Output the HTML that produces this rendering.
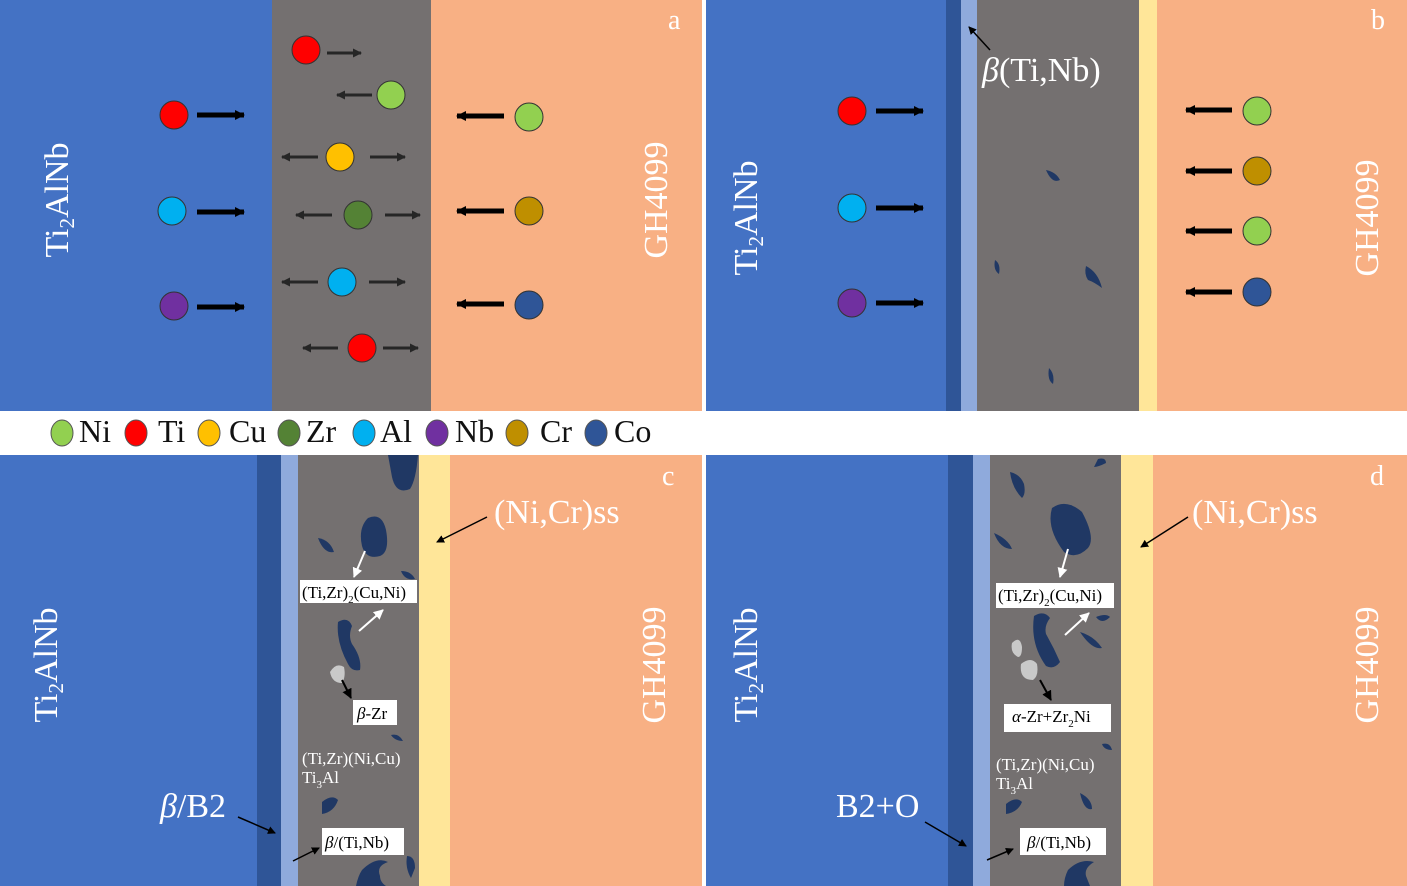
<!DOCTYPE html>
<html><head><meta charset="utf-8"><style>
html,body{margin:0;padding:0;background:#fff}
svg{display:block}
text{font-family:"Liberation Serif",serif}
</style></head><body>
<svg width="1407" height="886" viewBox="0 0 1407 886" xmlns="http://www.w3.org/2000/svg">
<defs>
<marker id="ab" markerWidth="8" markerHeight="8" refX="7" refY="4" orient="auto" markerUnits="userSpaceOnUse" viewBox="0 0 8 8"><path d="M0,0 L8,4 L0,8 z" fill="#000"/></marker>
<marker id="aw" markerWidth="10" markerHeight="10" refX="9" refY="5" orient="auto" markerUnits="userSpaceOnUse" viewBox="0 0 10 10"><path d="M0,0 L10,5 L0,10 z" fill="#fff"/></marker>
<marker id="ad" markerWidth="10" markerHeight="10" refX="9" refY="5" orient="auto" markerUnits="userSpaceOnUse" viewBox="0 0 10 10"><path d="M0,0 L10,5 L0,10 z" fill="#000"/></marker>
<marker id="ag" markerWidth="9" markerHeight="9" refX="8" refY="4.5" orient="auto" markerUnits="userSpaceOnUse" viewBox="0 0 9 9"><path d="M0,0 L9,4.5 L0,9 z" fill="#262626"/></marker>
</defs>
<rect x="0" y="0" width="272" height="411" fill="#4472c4"/>
<rect x="272" y="0" width="159" height="411" fill="#747070"/>
<rect x="431" y="0" width="271" height="411" fill="#f8b084"/>
<rect x="706" y="0" width="240" height="411" fill="#4472c4"/>
<rect x="946" y="0" width="15" height="411" fill="#2f5597"/>
<rect x="961" y="0" width="16" height="411" fill="#8faadc"/>
<rect x="977" y="0" width="162" height="411" fill="#747070"/>
<rect x="1139" y="0" width="18" height="411" fill="#ffe699"/>
<rect x="1157" y="0" width="250" height="411" fill="#f8b084"/>
<rect x="0" y="455" width="257" height="431" fill="#4472c4"/>
<rect x="257" y="455" width="24" height="431" fill="#2f5597"/>
<rect x="281" y="455" width="17" height="431" fill="#8faadc"/>
<rect x="298" y="455" width="121" height="431" fill="#747070"/>
<rect x="419" y="455" width="31" height="431" fill="#ffe699"/>
<rect x="450" y="455" width="252" height="431" fill="#f8b084"/>
<rect x="706" y="455" width="242" height="431" fill="#4472c4"/>
<rect x="948" y="455" width="25" height="431" fill="#2f5597"/>
<rect x="973" y="455" width="17" height="431" fill="#8faadc"/>
<rect x="990" y="455" width="131" height="431" fill="#747070"/>
<rect x="1121" y="455" width="32" height="431" fill="#ffe699"/>
<rect x="1153" y="455" width="254" height="431" fill="#f8b084"/>

<g fill="#fff" font-size="34">
<text transform="translate(68,200) rotate(-90)" text-anchor="middle">Ti<tspan font-size="21" dy="6">2</tspan><tspan dy="-6">AlNb</tspan></text>
<text transform="translate(667,200) rotate(-90)" text-anchor="middle">GH4099</text>
<text transform="translate(757,218) rotate(-90)" text-anchor="middle">Ti<tspan font-size="21" dy="6">2</tspan><tspan dy="-6">AlNb</tspan></text>
<text transform="translate(1378,218) rotate(-90)" text-anchor="middle">GH4099</text>
<text transform="translate(57,665) rotate(-90)" text-anchor="middle">Ti<tspan font-size="21" dy="6">2</tspan><tspan dy="-6">AlNb</tspan></text>
<text transform="translate(665,665) rotate(-90)" text-anchor="middle">GH4099</text>
<text transform="translate(757,665) rotate(-90)" text-anchor="middle">Ti<tspan font-size="21" dy="6">2</tspan><tspan dy="-6">AlNb</tspan></text>
<text transform="translate(1378,665) rotate(-90)" text-anchor="middle">GH4099</text>
<text x="668" y="29" font-size="28">a</text>
<text x="1371" y="29" font-size="28">b</text>
<text x="662" y="485" font-size="28">c</text>
<text x="1370" y="485" font-size="28">d</text>
</g>

<g stroke="#333" stroke-width="1">
<circle cx="174" cy="115" r="14" fill="#ff0000"/>
<circle cx="172" cy="211" r="14" fill="#00b0f0"/>
<circle cx="174" cy="306" r="14" fill="#7030a0"/>
<circle cx="529" cy="117" r="14" fill="#92d050"/>
<circle cx="529" cy="211" r="14" fill="#bf8f00"/>
<circle cx="529" cy="305" r="14" fill="#2f5597"/>
<circle cx="306" cy="50" r="14" fill="#ff0000"/>
<circle cx="391" cy="95" r="14" fill="#92d050"/>
<circle cx="340" cy="157" r="14" fill="#ffc000"/>
<circle cx="358" cy="215" r="14" fill="#548235"/>
<circle cx="342" cy="282" r="14" fill="#00b0f0"/>
<circle cx="362" cy="348" r="14" fill="#ff0000"/>
</g>
<g stroke="#000" stroke-width="5" marker-end="url(#ad)">
<line x1="197" y1="115" x2="244" y2="115"/>
<line x1="197" y1="212" x2="244" y2="212"/>
<line x1="197" y1="307" x2="244" y2="307"/>
<line x1="504" y1="116" x2="457" y2="116"/>
<line x1="504" y1="211" x2="457" y2="211"/>
<line x1="504" y1="304" x2="457" y2="304"/>
</g>
<g stroke="#262626" stroke-width="3" marker-end="url(#ag)">
<line x1="327" y1="53" x2="361" y2="53"/>
<line x1="372" y1="95" x2="337" y2="95"/>
<line x1="318" y1="157" x2="282" y2="157"/>
<line x1="370" y1="157" x2="405" y2="157"/>
<line x1="332" y1="215" x2="296" y2="215"/>
<line x1="385" y1="215" x2="420" y2="215"/>
<line x1="318" y1="282" x2="282" y2="282"/>
<line x1="369" y1="282" x2="405" y2="282"/>
<line x1="338" y1="348" x2="303" y2="348"/>
<line x1="383" y1="348" x2="418" y2="348"/>
</g>

<g stroke="#333" stroke-width="1">
<circle cx="852" cy="111" r="14" fill="#ff0000"/>
<circle cx="852" cy="208" r="14" fill="#00b0f0"/>
<circle cx="852" cy="303" r="14" fill="#7030a0"/>
<circle cx="1257" cy="111" r="14" fill="#92d050"/>
<circle cx="1257" cy="171" r="14" fill="#bf8f00"/>
<circle cx="1257" cy="231" r="14" fill="#92d050"/>
<circle cx="1257" cy="292" r="14" fill="#2f5597"/>
</g>
<g stroke="#000" stroke-width="5" marker-end="url(#ad)">
<line x1="876" y1="111" x2="923" y2="111"/>
<line x1="876" y1="208" x2="923" y2="208"/>
<line x1="876" y1="303" x2="923" y2="303"/>
<line x1="1232" y1="110" x2="1186" y2="110"/>
<line x1="1232" y1="171" x2="1186" y2="171"/>
<line x1="1232" y1="231" x2="1186" y2="231"/>
<line x1="1232" y1="292" x2="1186" y2="292"/>
</g>
<line x1="990" y1="50" x2="969" y2="27" stroke="#000" stroke-width="1.5" marker-end="url(#ab)"/>
<text x="982" y="81" font-size="34" fill="#fff"><tspan font-style="italic">β</tspan>(Ti,Nb)</text>
<g fill="#203864">
<path d="M1046,170 q10,2 14,10 q-8,4 -14,-10z"/>
<path d="M995,260 q6,4 4,14 q-6,-4 -4,-14z"/>
<path d="M1086,266 q12,6 16,22 q-8,-6 -14,-8 q-4,-6 -2,-14z"/>
<path d="M1049,368 q6,6 4,16 q-6,-4 -4,-16z"/>
</g>

<g stroke="#555" stroke-width="1">
<ellipse cx="62" cy="433" rx="11" ry="13" fill="#92d050"/>
<ellipse cx="136" cy="433" rx="11" ry="13" fill="#ff0000"/>
<ellipse cx="209" cy="433" rx="11" ry="13" fill="#ffc000"/>
<ellipse cx="289" cy="433" rx="11" ry="13" fill="#548235"/>
<ellipse cx="364" cy="433" rx="11" ry="13" fill="#00b0f0"/>
<ellipse cx="437" cy="433" rx="11" ry="13" fill="#7030a0"/>
<ellipse cx="517" cy="433" rx="11" ry="13" fill="#bf8f00"/>
<ellipse cx="596" cy="433" rx="11" ry="13" fill="#2f5597"/>
</g>
<g font-size="32" fill="#111">
<text x="79" y="442">Ni</text>
<text x="158" y="442">Ti</text>
<text x="229" y="442">Cu</text>
<text x="306" y="442">Zr</text>
<text x="380" y="442">Al</text>
<text x="455" y="442">Nb</text>
<text x="540" y="442">Cr</text>
<text x="614" y="442">Co</text>
</g>

<g fill="#203864">
<path d="M388,455 L418,455 q-2,25 -8,34 q-14,6 -18,-12 z"/>
<path d="M368,518 q14,-6 18,12 q4,22 -6,26 q-14,4 -18,-10 q-4,-18 6,-28z"/>
<path d="M318,538 q12,2 16,14 q-10,2 -16,-14z"/>
<path d="M401,571 q10,0 14,8 q-10,2 -14,-8z"/>
<path d="M338,622 q10,-6 14,4 q-4,10 0,18 q10,14 8,26 q-8,2 -12,-6 q-12,-22 -10,-42z"/>
<path d="M391,735 q8,-2 12,6 q-8,0 -12,-6z"/>
<path d="M322,802 q10,-8 16,-2 q-4,12 -16,14z"/>
<path d="M362,870 q14,-14 26,-8 q-12,4 -8,14 q0,6 6,10 l-30,0 q2,-10 6,-16z"/>
<path d="M407,856 q8,0 8,12 l-4,10 q-6,-10 -4,-22z"/>
</g>
<path d="M330,672 q6,-10 14,-5 q2,10 -2,16 q-10,0 -12,-11z" fill="#c9c9c9"/>
<line x1="365" y1="551" x2="354" y2="577" stroke="#fff" stroke-width="2" marker-end="url(#aw)"/>
<line x1="359" y1="631" x2="383" y2="610" stroke="#fff" stroke-width="2" marker-end="url(#aw)"/>
<rect x="300" y="580" width="117" height="23" fill="#fff"/>
<text x="302" y="598" font-size="17" fill="#000">(Ti,Zr)<tspan font-size="11" dy="5">2</tspan><tspan dy="-5">(Cu,Ni)</tspan></text>
<line x1="342" y1="680" x2="351" y2="698" stroke="#000" stroke-width="2" marker-end="url(#ad)"/>
<rect x="353" y="700" width="44" height="25" fill="#fff"/>
<text x="357" y="719" font-size="17"><tspan font-style="italic">β</tspan>-Zr</text>
<text x="302" y="764" font-size="17" fill="#fff">(Ti,Zr)(Ni,Cu)</text>
<text x="302" y="783" font-size="17" fill="#fff">Ti<tspan font-size="11" dy="5">3</tspan><tspan dy="-5">Al</tspan></text>
<rect x="322" y="828" width="82" height="27" fill="#fff"/>
<text x="325" y="848" font-size="17"><tspan font-style="italic">β</tspan>/(Ti,Nb)</text>
<line x1="293" y1="861" x2="319" y2="848" stroke="#000" stroke-width="1.5" marker-end="url(#ab)"/>
<text x="160" y="817" font-size="34" fill="#fff"><tspan font-style="italic">β</tspan>/B2</text>
<line x1="238" y1="817" x2="275" y2="833" stroke="#000" stroke-width="1.5" marker-end="url(#ab)"/>
<text x="494" y="523" font-size="34" fill="#fff">(Ni,Cr)ss</text>
<line x1="487" y1="517" x2="437" y2="542" stroke="#000" stroke-width="1.5" marker-end="url(#ab)"/>

<g fill="#203864">
<path d="M1098,459 q8,-2 8,4 q-8,4 -12,4z"/>
<path d="M1010,472 q10,2 14,12 q2,10 -2,14 q-10,-10 -12,-26z"/>
<path d="M1052,508 q14,-10 30,4 q14,26 6,36 q-12,12 -24,4 q-18,-24 -12,-44z"/>
<path d="M994,533 q14,6 18,16 q-12,0 -18,-16z"/>
<path d="M1096,617 q10,-4 14,0 q-8,8 -14,0z"/>
<path d="M1034,616 q10,-6 16,2 q-6,8 -4,16 q8,14 14,28 q-6,8 -14,4 q-16,-22 -12,-50z"/>
<path d="M1080,632 q14,4 22,16 q-10,2 -22,-16z"/>
<path d="M1102,744 q8,-2 10,6 q-8,0 -10,-6z"/>
<path d="M1080,793 q12,6 12,16 q-8,2 -12,-16z"/>
<path d="M1006,804 q10,-8 16,-2 q-4,10 -16,12z"/>
<path d="M1068,870 q12,-12 26,-8 q-10,6 -8,14 l4,10 l-26,0 q0,-8 4,-16z"/>
</g>
<path d="M1012,643 q8,-8 10,4 q0,10 -4,10 q-8,-4 -6,-14z M1021,664 q10,-8 16,0 q2,12 -4,16 q-14,0 -12,-16z" fill="#c9c9c9"/>
<line x1="1068" y1="549" x2="1060" y2="577" stroke="#fff" stroke-width="2" marker-end="url(#aw)"/>
<line x1="1065" y1="635" x2="1089" y2="613" stroke="#fff" stroke-width="2" marker-end="url(#aw)"/>
<rect x="996" y="583" width="118" height="25" fill="#fff"/>
<text x="998" y="601" font-size="17">(Ti,Zr)<tspan font-size="11" dy="5">2</tspan><tspan dy="-5">(Cu,Ni)</tspan></text>
<line x1="1040" y1="680" x2="1051" y2="700" stroke="#000" stroke-width="2" marker-end="url(#ad)"/>
<rect x="1004" y="704" width="107" height="28" fill="#fff"/>
<text x="1012" y="722" font-size="17"><tspan font-style="italic">α</tspan>-Zr+Zr<tspan font-size="11" dy="5">2</tspan><tspan dy="-5">Ni</tspan></text>
<text x="996" y="770" font-size="17" fill="#fff">(Ti,Zr)(Ni,Cu)</text>
<text x="996" y="789" font-size="17" fill="#fff">Ti<tspan font-size="11" dy="5">3</tspan><tspan dy="-5">Al</tspan></text>
<rect x="1020" y="828" width="86" height="27" fill="#fff"/>
<text x="1027" y="848" font-size="17"><tspan font-style="italic">β</tspan>/(Ti,Nb)</text>
<line x1="987" y1="860" x2="1013" y2="849" stroke="#000" stroke-width="1.5" marker-end="url(#ab)"/>
<text x="836" y="817" font-size="34" fill="#fff">B2+O</text>
<line x1="925" y1="822" x2="966" y2="846" stroke="#000" stroke-width="1.5" marker-end="url(#ab)"/>
<text x="1192" y="523" font-size="34" fill="#fff">(Ni,Cr)ss</text>
<line x1="1188" y1="517" x2="1141" y2="547" stroke="#000" stroke-width="1.5" marker-end="url(#ab)"/>
</svg>
</body></html>
